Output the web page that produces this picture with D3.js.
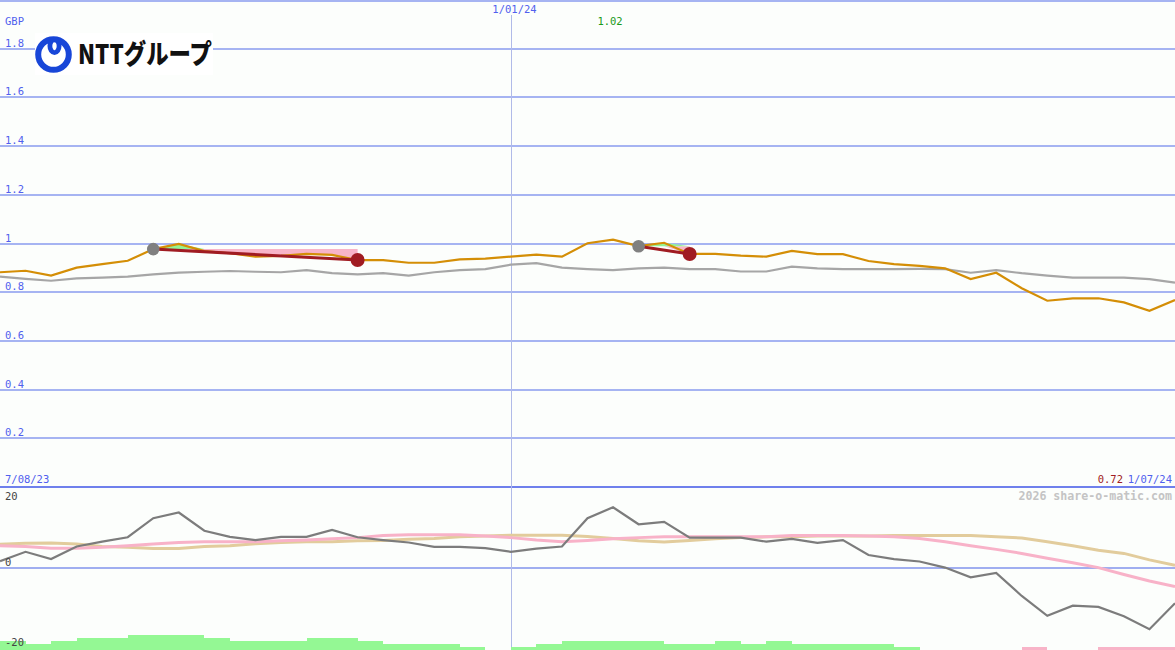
<!DOCTYPE html>
<html><head><meta charset="utf-8">
<script src="https://cdn.jsdelivr.net/npm/d3@7"></script>
<style>body{margin:0;background:#fcfefc;} svg{display:block}</style>
</head><body><svg id="c" width="1175" height="650"></svg>
<script>
// ---------- data ----------
const dates = ["2023-08-07","2023-08-14","2023-08-21","2023-08-28","2023-09-04","2023-09-11","2023-09-18","2023-09-25",
"2023-10-02","2023-10-09","2023-10-16","2023-10-23","2023-10-30","2023-11-06","2023-11-13","2023-11-20","2023-11-27",
"2023-12-04","2023-12-11","2023-12-18","2024-01-01","2024-01-08","2024-01-15","2024-01-22","2024-01-29","2024-02-05",
"2024-02-12","2024-02-19","2024-02-26","2024-03-04","2024-03-11","2024-03-18","2024-03-25","2024-04-01","2024-04-08",
"2024-04-15","2024-04-22","2024-04-29","2024-05-06","2024-05-13","2024-05-20","2024-05-27","2024-06-03","2024-06-10",
"2024-06-17","2024-06-24","2024-07-01"];
const price = [0.882,0.888,0.868,0.901,0.915,0.929,0.977,0.998,0.969,0.960,0.946,0.949,0.957,0.953,0.932,0.932,0.921,
0.921,0.935,0.938,0.946,0.954,0.946,1.001,1.016,0.989,1.003,0.957,0.957,0.950,0.946,0.970,0.956,0.956,0.928,0.915,
0.908,0.898,0.854,0.880,0.816,0.765,0.775,0.775,0.758,0.724,0.768];
const benchmark = [0.864,0.855,0.847,0.857,0.860,0.864,0.873,0.880,0.884,0.887,0.884,0.882,0.891,0.878,0.873,0.878,
0.868,0.882,0.891,0.895,0.913,0.919,0.901,0.895,0.891,0.898,0.901,0.895,0.895,0.885,0.885,0.905,0.898,0.895,0.895,
0.895,0.896,0.895,0.880,0.891,0.878,0.868,0.860,0.860,0.860,0.854,0.839];
const momentum = [1.7,4.0,2.2,5.3,6.5,7.6,12.3,13.7,9.2,7.7,6.9,7.7,7.7,9.4,7.6,6.9,6.3,5.2,5.2,4.9,4.0,4.8,5.3,12.3,
15.0,10.8,11.4,7.5,7.5,7.5,6.5,7.2,6.2,6.9,3.2,2.2,1.6,0.1,-2.3,-1.2,-6.9,-11.8,-9.3,-9.6,-11.9,-15.1,-8.7];
const avgFast = [5.5,5.3,4.9,4.9,5.1,5.5,5.9,6.3,6.5,6.5,6.5,6.7,6.9,7.2,7.5,8.0,8.2,8.2,8.2,7.9,7.5,6.9,6.5,6.8,7.2,
7.5,7.7,7.7,7.7,7.7,7.7,8.0,8.0,8.0,7.9,7.7,7.3,6.5,5.5,4.6,3.6,2.4,1.3,0.1,-1.6,-3.2,-4.6];
const avgSlow = [5.85,6.1,6.2,5.9,5.3,5.1,4.8,4.8,5.3,5.5,6.0,6.3,6.5,6.5,6.7,6.8,7.1,7.3,7.7,7.9,8.1,8.1,8.1,7.8,7.3,
6.7,6.4,6.8,7.2,7.5,7.7,7.7,7.9,7.9,7.9,8.0,8.0,8.0,8.0,7.7,7.4,6.5,5.5,4.4,3.6,2.0,0.7];
const histogram = [3,2,3,4,4,5,5,5,4,3,3,3,4,4,3,2,2,2,1,0,1,2,3,3,3,3,2,2,3,2,3,2,2,2,2,1,0,0,0,0,-1,0,0,-1,-1,-1];
const priceTicks = [0.2,0.4,0.6,0.8,1,1.2,1.4,1.6,1.8];
const lowerTicks = [20,0,-20];
const signalStarts = ["2023-09-18","2024-02-05"];
const signalEnds = ["2023-11-13","2024-02-19"];
const dateLabels = ["7/08/23","1/01/24","1/07/24"];
const currency = "GBP";

// ---------- drawing ----------
const W = 1175, H = 650;
const svg = d3.select("#c");
svg.append("rect").attr("width", W).attr("height", H).attr("fill", "#fcfefc");

const x = d3.scalePoint().domain(dates).range([0, W]);
const y = d3.scaleLinear().domain([0, 2]).range([487, 0]);
const y2 = d3.scaleLinear().domain([-20, 20]).range([649, 487]);
const hS = d3.scaleLinear().domain([0, 5]).range([0, 15]);
const pv = dates.map((d, i) => ({d, v: price[i]}));
const mono = "'DejaVu Sans Mono', monospace";

// grid
svg.append("rect").attr("x", 0).attr("y", 0).attr("width", W).attr("height", 2).attr("fill", "#a6b4f2");
svg.selectAll(".grid").data(priceTicks).join("line")
  .attr("x1", 0).attr("x2", W)
  .attr("y1", d => Math.round(y(d))).attr("y2", d => Math.round(y(d)))
  .attr("stroke", "#a6b4f2").attr("stroke-width", 2).attr("shape-rendering", "crispEdges");
svg.append("line").attr("x1", 0).attr("x2", W).attr("y1", 487).attr("y2", 487)
  .attr("stroke", "#6f80ec").attr("stroke-width", 2).attr("shape-rendering", "crispEdges");
svg.append("line").attr("x1", 0).attr("x2", W).attr("y1", Math.round(y2(0))).attr("y2", Math.round(y2(0)))
  .attr("stroke", "#a0aef0").attr("stroke-width", 2).attr("shape-rendering", "crispEdges");
const xJan = Math.round(x("2024-01-01")) + 0.5;
svg.append("line").attr("x1", xJan).attr("x2", xJan).attr("y1", 15).attr("y2", H)
  .attr("stroke", "#b0bae8").attr("stroke-width", 1);

// tick labels
svg.selectAll(".pl").data(priceTicks).join("text")
  .attr("x", 5).attr("y", d => Math.round(y(d)) - 2)
  .attr("font-family", mono).attr("font-size", 10.5).attr("fill", "#5060ee")
  .text(d => d3.format("~g")(d));
svg.append("text").attr("x", 5).attr("y", 25).attr("font-family", mono).attr("font-size", 10.5)
  .attr("fill", "#5060ee").text(currency);

// logo
const logo = svg.append("g");
logo.append("rect").attr("x", 35).attr("y", 33).attr("width", 178).attr("height", 42).attr("fill", "#ffffff");
logo.append("circle").attr("cx", 53.5).attr("cy", 54.5).attr("r", 15.3).attr("fill", "none")
  .attr("stroke", "#1846d8").attr("stroke-width", 6);
logo.append("ellipse").attr("cx", 54.5).attr("cy", 46).attr("rx", 4.6).attr("ry", 6.6).attr("fill", "none")
  .attr("stroke", "#1846d8").attr("stroke-width", 4.8);
logo.append("text").attr("x", 78).attr("y", 63.5)
  .attr("font-family", "'Noto Sans CJK JP', sans-serif").attr("font-weight", 900).attr("font-size", 27)
  .attr("fill", "#111").attr("textLength", 134).attr("lengthAdjust", "spacingAndGlyphs").text("NTTグループ");

// signal fills
signalStarts.forEach((s, k) => {
  const i0 = dates.indexOf(s), i1 = dates.indexOf(signalEnds[k]);
  const seg = pv.slice(i0, i1 + 1);
  const base = price[i0];
  svg.append("path").datum(seg).attr("fill", "#f8b4c8")
    .attr("d", d3.area().x(d => x(d.d)).y0(y(base)).y1(d => y(Math.min(d.v, base))));
  svg.append("path").datum(seg).attr("fill", "#94f494")
    .attr("d", d3.area().x(d => x(d.d)).y0(y(base)).y1(d => y(Math.max(d.v, base))));
});

// benchmark & price lines
const line = d3.line().x(d => x(d.d)).y(d => y(d.v));
svg.append("path").datum(dates.map((d, i) => ({d, v: benchmark[i]})))
  .attr("fill", "none").attr("stroke", "#a6a6a6").attr("stroke-width", 2.2).attr("d", line);
svg.append("path").datum(pv)
  .attr("fill", "none").attr("stroke", "#d48e06").attr("stroke-width", 2.2).attr("d", line);

// signal lines & markers
signalStarts.forEach((s, k) => {
  const e = signalEnds[k];
  const vs = price[dates.indexOf(s)], ve = price[dates.indexOf(e)];
  svg.append("line").attr("x1", x(s)).attr("y1", y(vs)).attr("x2", x(e)).attr("y2", y(ve))
    .attr("stroke", "#a01c22").attr("stroke-width", 3);
  svg.append("circle").attr("cx", x(s)).attr("cy", y(vs)).attr("r", 6.3).attr("fill", "#808080");
  svg.append("circle").attr("cx", x(e)).attr("cy", y(ve)).attr("r", 7).attr("fill", "#a01c22");
});

// max / min labels
const iMax = d3.maxIndex(price), iMin = d3.minIndex(price);
svg.append("text").attr("x", x(dates[iMax]) - 3).attr("y", 25).attr("text-anchor", "middle")
  .attr("font-family", mono).attr("font-size", 10.5).attr("fill", "#1a9a1a").text(price[iMax].toFixed(2));
svg.append("text").attr("x", 1123).attr("y", 483).attr("text-anchor", "end")
  .attr("font-family", mono).attr("font-size", 10.5).attr("fill", "#a01c22").text(price[iMin].toFixed(2));

// date labels
svg.append("text").attr("x", 5).attr("y", 483).attr("font-family", mono).attr("font-size", 10.5)
  .attr("fill", "#5060ee").text(dateLabels[0]);
svg.append("text").attr("x", xJan + 3).attr("y", 13).attr("text-anchor", "middle").attr("font-family", mono)
  .attr("font-size", 10.5).attr("fill", "#5060ee").text(dateLabels[1]);
svg.append("text").attr("x", 1172).attr("y", 483).attr("text-anchor", "end").attr("font-family", mono)
  .attr("font-size", 10.5).attr("fill", "#5060ee").text(dateLabels[2]);

// watermark
svg.append("text").attr("x", 1172).attr("y", 500).attr("text-anchor", "end").attr("font-family", mono)
  .attr("font-weight", "bold").attr("font-size", 11.6).attr("fill", "#c4c4c4").text("2026 share-o-matic.com");

// lower panel: histogram bars
svg.selectAll(".bar").data(histogram).join("rect")
  .attr("x", (d, i) => x(dates[i]))
  .attr("width", (d, i) => x(dates[i + 1]) - x(dates[i]))
  .attr("y", d => H - hS(Math.abs(d)))
  .attr("height", d => hS(Math.abs(d)))
  .attr("fill", d => d >= 0 ? "#94f894" : "#f8b4c8")
  .attr("shape-rendering", "crispEdges");

const line2 = d3.line().x(d => x(d.d)).y(d => y2(d.v));
svg.append("path").datum(dates.map((d, i) => ({d, v: avgSlow[i]})))
  .attr("fill", "none").attr("stroke", "#e2cc9c").attr("stroke-width", 3).attr("d", line2);
svg.append("path").datum(dates.map((d, i) => ({d, v: avgFast[i]})))
  .attr("fill", "none").attr("stroke", "#f8b2c8").attr("stroke-width", 3).attr("d", line2);
svg.append("path").datum(dates.map((d, i) => ({d, v: momentum[i]})))
  .attr("fill", "none").attr("stroke", "#7c7c7c").attr("stroke-width", 2.2).attr("d", line2);

svg.selectAll(".ll").data(lowerTicks).join("text")
  .attr("x", 5).attr("y", d => d === 20 ? 500 : (d === 0 ? 566 : 646))
  .attr("font-family", mono).attr("font-size", 10.5).attr("fill", "#444")
  .text(d => d);
</script>
</body></html>
